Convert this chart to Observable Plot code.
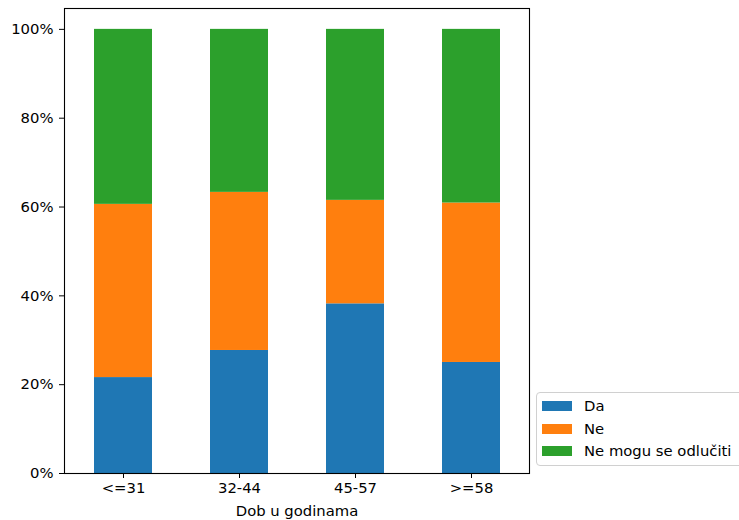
<!DOCTYPE html>
<html><head><meta charset="utf-8">
<script src="https://cdn.jsdelivr.net/npm/d3@7"></script>
<script src="https://cdn.jsdelivr.net/npm/@observablehq/plot@0.6"></script>
<style>
body{margin:0;background:#fff;}
#wrap{position:relative;width:739px;height:520px;overflow:hidden;font-family:"DejaVu Sans",sans-serif;color:#000;}
.legend{position:absolute;left:536px;top:392px;width:220px;height:74px;border:1px solid #d0d0d0;border-radius:4px;box-sizing:border-box;background:#fff;font-size:14.8px;}
.legend .row{position:absolute;left:5px;height:20px;line-height:20px;white-space:nowrap;}
.legend .sw{display:inline-block;width:30px;height:10px;vertical-align:middle;margin-right:12px;position:relative;top:-1px;}
</style></head>
<body><div id="wrap"></div>
<script>
const groups = ["<=31", "32-44", "45-57", ">=58"];
const seriesNames = ["Da", "Ne", "Ne mogu se odlučiti"];
const colors = ["#1f77b4", "#ff7f0e", "#2ca02c"];
const da = [0.216, 0.277, 0.382, 0.250];
const ne = [0.390, 0.356, 0.233, 0.359];
const neodluceni = [0.394, 0.367, 0.385, 0.391];
const yTicks = [0, 0.2, 0.4, 0.6, 0.8, 1.0];

const valuesBySeries = [da, ne, neodluceni];
const rows = [];
seriesNames.forEach((s, si) => groups.forEach((g, gi) => rows.push({group: g, series: s, value: valuesBySeries[si][gi]})));

const chart = Plot.plot({
  width: 739, height: 520,
  marginLeft: 64, marginRight: 210, marginTop: 8, marginBottom: 47,
  style: {fontFamily: "DejaVu Sans, sans-serif", fontSize: "14.8px", color: "#000", background: "#fff"},
  x: {type: "band", domain: groups, paddingInner: 0.5, paddingOuter: 0.25, label: null},
  y: {domain: [0, 1.047], label: null},
  color: {domain: seriesNames, range: colors},
  marks: [
    Plot.barY(rows, {x: "group", y: "value", fill: "series", order: seriesNames}),
    Plot.axisY({ticks: yTicks, tickFormat: d3.format(".0%"), tickSize: 5, tickPadding: 6, label: null}),
    Plot.axisX({tickSize: 5, tickPadding: 4, label: "Dob u godinama", labelAnchor: "center", labelOffset: 42, labelArrow: "none"}),
    Plot.frame({stroke: "#000", strokeWidth: 1.1})
  ]
});
const wrap = document.getElementById("wrap");
wrap.appendChild(chart);

const legend = document.createElement("div");
legend.className = "legend";
seriesNames.forEach((s, i) => {
  const r = document.createElement("div");
  r.className = "row";
  r.style.top = (3 + i * 22.5) + "px";
  const sw = document.createElement("span");
  sw.className = "sw";
  sw.style.background = colors[i];
  r.appendChild(sw);
  r.appendChild(document.createTextNode(s));
  legend.appendChild(r);
});
wrap.appendChild(legend);
</script>
</body></html>
